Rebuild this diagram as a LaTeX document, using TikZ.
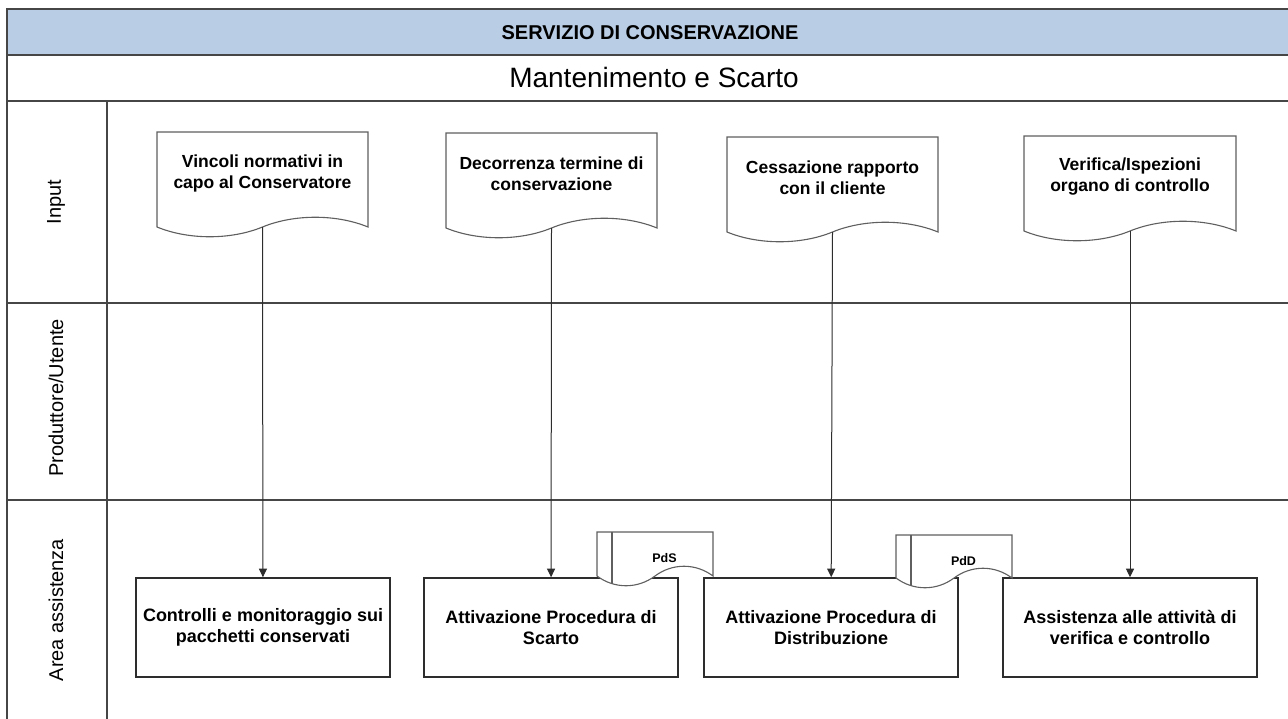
\documentclass[tikz,border=0pt]{standalone}
\usepackage{fontspec}
\setmainfont{Liberation Sans}
\usetikzlibrary{arrows.meta}

\definecolor{hdrblue}{RGB}{185,205,229}
\definecolor{frameline}{RGB}{70,70,70}
\definecolor{docgray}{RGB}{95,95,95}
\definecolor{boxline}{RGB}{45,45,45}

% Input document with a wavy bottom edge: #1 name, #2 left x, #3 top y,
% #4 right x, #5 y where the sides end, #6 text
\newcommand\inputdoc[6]{%
  \draw[docline] (#2,#3) -- (#4,#3) -- (#4,#5)
    .. controls ({#4-0.15*(#4-#2)},#5-13) and ({#4-0.35*(#4-#2)},#5-13) .. ({(#2+#4)/2},#5)
    .. controls ({#2+0.35*(#4-#2)},#5+13) and ({#2+0.15*(#4-#2)},#5+13) .. (#2,#5) -- cycle;
  \node[doctext] (#1) at ({(#2+#4)/2},#3+41) {#6};
  \coordinate (#1w) at ({(#2+#4)/2},#5);
}

% Small output document with a left strip: #1 name, #2 left x, #3 top y,
% #4 right x, #5 y where the sides end, #6 strip x, #7 strip bottom y, #8 text
\newcommand\tabdoc[8]{%
  \draw[docline] (#2,#3) -- (#4,#3) -- (#4,#5)
    .. controls ({#4-0.15*(#4-#2)},#5-13) and ({#4-0.35*(#4-#2)},#5-13) .. ({(#2+#4)/2},#5)
    .. controls ({#2+0.35*(#4-#2)},#5+13) and ({#2+0.15*(#4-#2)},#5+13) .. (#2,#5) -- cycle;
  \draw[docline] (#6,#3) -- (#6,#7);
  \node[tabtext] (#1) at ({(#6+#4)/2+2},#3+26) {#8};
}

\begin{document}
\begin{tikzpicture}[x=1pt,y=-1pt,
  frame/.style={draw=frameline, line width=1.8pt},
  docline/.style={draw=docgray, line width=1.1pt, fill=white},
  doctext/.style={font=\fontsize{17.5}{21}\selectfont\bfseries, align=center, inner sep=0pt},
  tabtext/.style={font=\fontsize{12.5}{14}\selectfont\bfseries, inner sep=0pt},
  stepbox/.style={draw=boxline, line width=1.6pt, fill=white, minimum width=254pt,
    minimum height=99pt, font=\fontsize{18}{21.5}\selectfont\bfseries, align=center, inner sep=0pt},
  lanelabel/.style={rotate=90, font=\fontsize{20}{24}\selectfont, inner sep=0pt},
  flow/.style={draw=boxline, line width=1pt, -{Triangle[length=8.5pt,width=8pt]}}
]
\useasboundingbox (0,0) rectangle (1288,718);

% header band and swimlane grid
\fill[hdrblue] (7,9) rectangle (1300,55);
\draw[frame] (1300,9) -- (7,9) -- (7,730);
\foreach \yy in {55,101,303,500} \draw[frame] (7,\yy) -- (1300,\yy);
\draw[frame] (107,101) -- (107,730);

\node[font=\fontsize{20}{22}\selectfont\bfseries, inner sep=0pt] (service) at (650,33) {SERVIZIO DI CONSERVAZIONE};
\node[font=\fontsize{28}{32}\selectfont, inner sep=0pt] (process) at (654,77) {Mantenimento e Scarto};

% lane names
\node[lanelabel] (laneIn) at (56,202) {Input};
\node[lanelabel] (lanePU) at (56,398) {Produttore/Utente};
\node[lanelabel] (laneAA) at (56,610) {Area assistenza};

% inputs
\inputdoc{d1}{157}{132}{368}{227}{Vincoli normativi in\\capo al Conservatore}
\inputdoc{d2}{446}{133}{657}{228}{Decorrenza termine di\\conservazione}
\inputdoc{d3}{727}{137}{938}{232}{Cessazione rapporto\\con il cliente}
\inputdoc{d4}{1024}{136}{1236}{231}{Verifica/Ispezioni\\organo di controllo}

% activities
\node[stepbox] (b1) at (263,627.5) {Controlli e monitoraggio sui\\pacchetti conservati};
\node[stepbox] (b2) at (551,627.5) {Attivazione Procedura di\\Scarto};
\node[stepbox] (b3) at (831,627.5) {Attivazione Procedura di\\Distribuzione};
\node[stepbox] (b4) at (1130,627.5) {Assistenza alle attività di\\verifica e controllo};

% produced documents
\tabdoc{pds}{597}{532}{713}{576}{612}{584}{PdS}
\tabdoc{pdd}{896}{535}{1012}{578}{911}{586}{PdD}

% flows
\draw[flow] (d1w) -- (b1);
\draw[flow] (d2w) -- (b2);
\draw[flow] (d3w) -- (b3);
\draw[flow] (d4w) -- (b4);
\end{tikzpicture}
\end{document}
